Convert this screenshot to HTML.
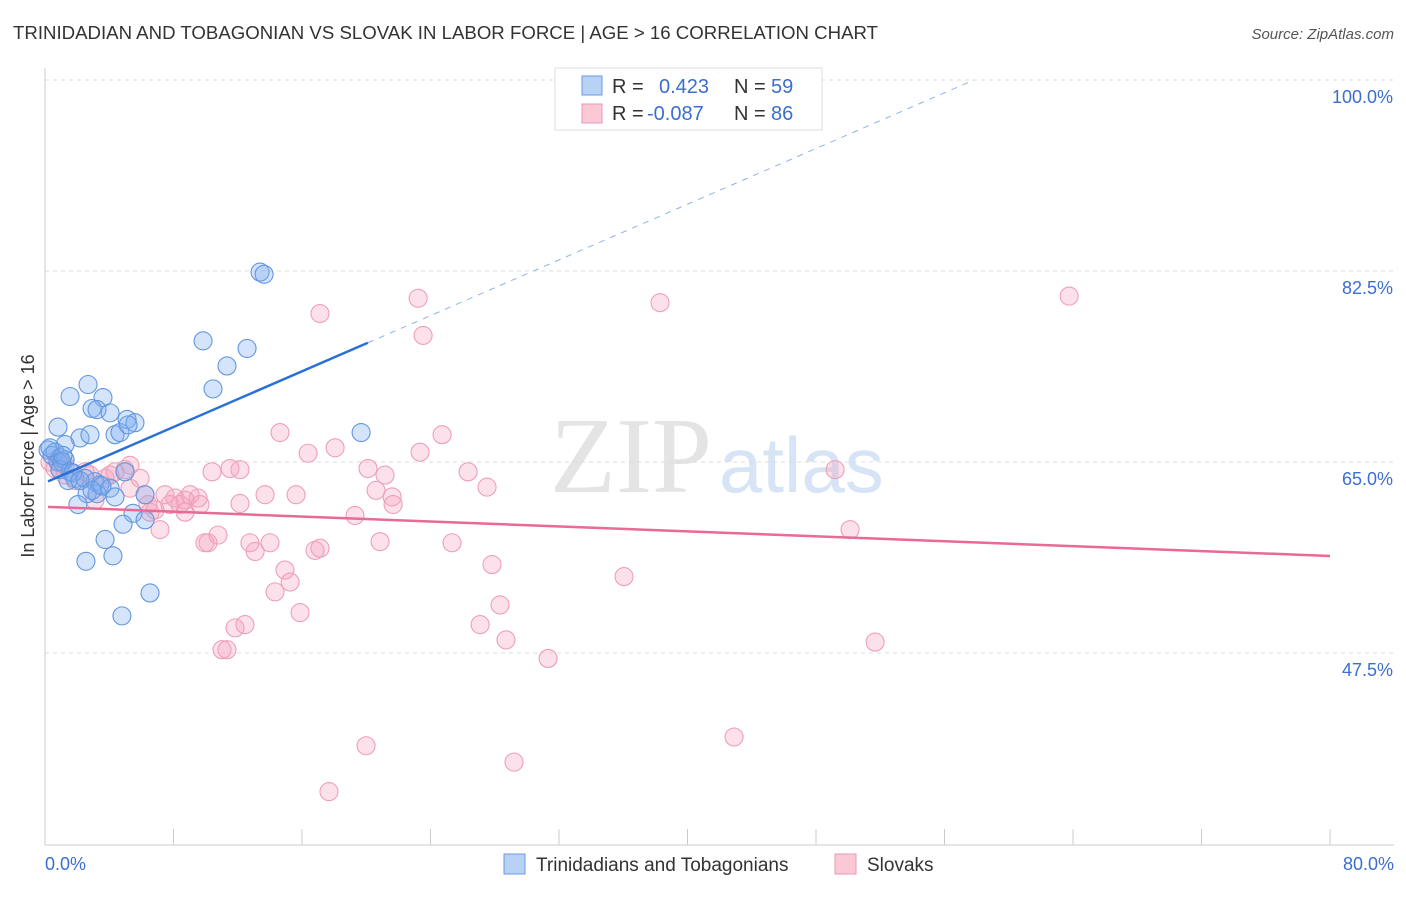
<!DOCTYPE html>
<html><head><meta charset="utf-8"><style>
body{margin:0;background:#fff;font-family:"Liberation Sans",sans-serif}
</style></head><body>
<svg width="1406" height="892" xmlns="http://www.w3.org/2000/svg" style="font-family:'Liberation Sans',sans-serif">
<text x="13" y="39" font-size="18" fill="#333" textLength="865" lengthAdjust="spacingAndGlyphs">TRINIDADIAN AND TOBAGONIAN VS SLOVAK IN LABOR FORCE | AGE &gt; 16 CORRELATION CHART</text>
<text x="1394" y="39" font-size="15" fill="#555" font-style="italic" text-anchor="end">Source: ZipAtlas.com</text>
<text x="712" y="492" font-size="108" fill="#e4e4e4" font-family="Liberation Serif" text-anchor="end">ZIP</text>
<text x="719" y="492" font-size="78" fill="#d6e4f5">atlas</text>
<g id="grid"></g>
<g id="axes"></g>
<g id="marks"></g>
<text transform="translate(34,456) rotate(-90)" font-size="18" fill="#333" text-anchor="middle">In Labor Force | Age &gt; 16</text>
<text x="45" y="870" font-size="18" fill="#3a6fd0">0.0%</text>
<text x="1394" y="870" font-size="18" fill="#3a6fd0" text-anchor="end">80.0%</text>
<g>
<rect x="555" y="68" width="267" height="62" fill="#fff" stroke="#ddd"/>
<rect x="582" y="76" width="20" height="19" fill="#b8d2f6" stroke="#6a9ae0"/>
<rect x="582" y="104" width="20" height="19" fill="#fbc8d6" stroke="#ea9ab2"/>
<text x="612" y="93" font-size="20" fill="#333">R = </text>
<text x="659" y="93" font-size="20" fill="#3a6fd0">0.423</text>
<text x="734" y="93" font-size="20" fill="#333">N = </text>
<text x="771" y="93" font-size="20" fill="#3a6fd0">59</text>
<text x="612" y="120" font-size="20" fill="#333">R = </text>
<text x="647" y="120" font-size="20" fill="#3a6fd0">-0.087</text>
<text x="734" y="120" font-size="20" fill="#333">N = </text>
<text x="771" y="120" font-size="20" fill="#3a6fd0">86</text>
</g>
<g>
<rect x="504" y="854" width="21" height="20" fill="#b8d2f6" stroke="#6a9ae0"/>
<text x="536" y="871" font-size="19" fill="#333">Trinidadians and Tobagonians</text>
<rect x="835" y="854" width="21" height="20" fill="#fbc8d6" stroke="#ea9ab2"/>
<text x="867" y="871" font-size="19" fill="#333">Slovaks</text>
</g>
</svg>
<script>
const yTicks=[100,82.5,65,47.5];
const yTickLabels=["100.0%","82.5%","65.0%","47.5%"];
const xTicks=[0,8,16,24,32,40,48,56,64,72,80];
const blueX=[0.19,0.44,0.62,0.93,0.81,1.25,1.56,0.81,2.68,3.61,2.93,3.24,4.05,2.18,2.80,4.36,4.67,5.11,5.60,1.25,1.06,1.56,1.87,2.49,3.11,3.42,4.05,4.98,2.62,3.24,2.05,4.36,6.23,5.48,4.86,3.74,4.23,2.55,6.54,4.79,13.39,13.64,9.84,12.58,11.33,10.46,19.68,0.93,1.74,1.43,0.31,3.55,6.23,2.18,2.93,5.17,1.12];
const blueY=[66.1,65.6,65.9,65.4,65.0,65.2,71.0,68.2,72.1,70.9,69.9,69.8,69.5,67.2,67.5,67.5,67.7,68.9,68.6,66.6,65.0,64.1,63.5,63.5,63.2,62.9,62.6,64.1,62.1,62.1,61.1,61.8,62.0,60.3,59.3,57.9,56.4,55.9,53.0,50.9,82.4,82.2,76.1,75.4,73.8,71.7,67.7,64.3,64.0,63.3,66.3,62.8,59.7,63.3,62.4,68.4,65.6];
const pinkX=[0.31,0.62,0.93,1.25,1.87,2.80,3.11,3.74,4.36,4.98,5.29,5.92,6.41,6.85,7.16,7.47,8.09,8.41,8.72,9.03,9.65,9.96,10.40,10.77,11.52,12.14,12.76,13.08,13.70,14.01,14.63,14.94,15.26,15.63,15.88,16.38,16.81,17.12,18.06,19.30,20.11,20.61,20.86,21.17,21.61,21.67,23.23,23.54,23.35,24.72,25.34,26.34,27.09,27.52,27.83,28.33,28.70,31.32,19.99,29.20,17.68,36.05,38.29,42.90,49.19,50.12,51.68,63.76,11.02,11.33,11.83,12.45,14.32,17.12,9.53,5.29,4.05,6.54,7.78,8.72,10.15,12.14,1.25,2.49,0.93,6.23];
const pinkY=[65.0,64.4,64.3,63.8,63.3,63.8,61.5,63.5,64.1,64.3,62.6,63.5,61.1,60.6,58.8,62.0,61.7,61.1,60.4,62.0,61.1,57.6,64.1,58.3,64.4,61.2,57.6,56.8,62.0,57.6,67.7,55.1,54.0,62.0,51.2,65.8,56.9,78.6,66.3,60.1,64.4,62.4,57.7,63.8,61.8,61.1,80.0,76.6,65.9,67.5,57.6,64.1,50.1,62.7,55.6,51.9,48.7,47.0,39.0,37.5,34.8,54.5,79.6,39.8,64.3,58.8,48.5,80.2,47.8,47.8,49.8,50.1,53.1,57.1,61.7,64.7,63.8,60.4,61.1,61.5,57.6,64.3,64.7,64.1,65.0,62.0];
const blueFit=[63.1,0.638];
const pinkFit=[60.9,-0.0564];
const NS="http://www.w3.org/2000/svg";
const xs=v=>45+v*16.0625;
const ys=v=>80+(100-v)*10.914;
function mk(t,a,p){const e=document.createElementNS(NS,t);for(const k in a)e.setAttribute(k,a[k]);p.appendChild(e);return e;}
const grid=document.getElementById('grid'),axes=document.getElementById('axes'),marks=document.getElementById('marks');
yTicks.forEach((v,i)=>{
 const l=mk('line',{x1:45,x2:1394,y1:ys(v),y2:ys(v),stroke:'#ddd','stroke-dasharray':'4,4'},grid);
 
 
 const t=mk('text',{x:1393,y:ys(v)+23,'font-size':18,fill:'#3a6fd0','text-anchor':'end'},grid);
 t.textContent=yTickLabels[i];
 
 
});
const ax=mk('line',{x1:45,x2:1394,y1:845,y2:845,stroke:'#ccc'},axes);


const ay=mk('line',{x1:45,x2:45,y1:68,y2:845,stroke:'#ccc'},axes);


xTicks.forEach(v=>{
 const t=mk('line',{x1:xs(v),x2:xs(v),y1:829,y2:845,stroke:'#ccc'},axes);
 
 
});
pinkX.forEach((x,i)=>{
 const c=mk('circle',{cx:xs(x),cy:ys(pinkY[i]),r:9,fill:'rgba(246,165,190,0.33)',stroke:'#ee9fb6','stroke-width':1.1},marks);
 
 
});
blueX.forEach((x,i)=>{
 const c=mk('circle',{cx:xs(x),cy:ys(blueY[i]),r:9,fill:'rgba(125,172,240,0.33)',stroke:'#6396e0','stroke-width':1.1},marks);
 
 
});
const bx0=0.19,bx1=20.1,bx2=(100-blueFit[0])/blueFit[1];
const bl=mk('line',{x1:xs(bx0),y1:ys(blueFit[0]+blueFit[1]*bx0),x2:xs(bx1),y2:ys(blueFit[0]+blueFit[1]*bx1),stroke:'#2a6fd8','stroke-width':2.5},marks);


const bd=mk('line',{x1:xs(bx1),y1:ys(blueFit[0]+blueFit[1]*bx1),x2:xs(bx2),y2:ys(100),stroke:'#8fb2e6','stroke-width':1,'stroke-dasharray':'6,6'},marks);


const pl=mk('line',{x1:xs(0.19),y1:ys(pinkFit[0]+pinkFit[1]*0.19),x2:xs(80),y2:ys(pinkFit[0]+pinkFit[1]*80),stroke:'#e86a95','stroke-width':2.5},marks);


</script>
</body></html>
